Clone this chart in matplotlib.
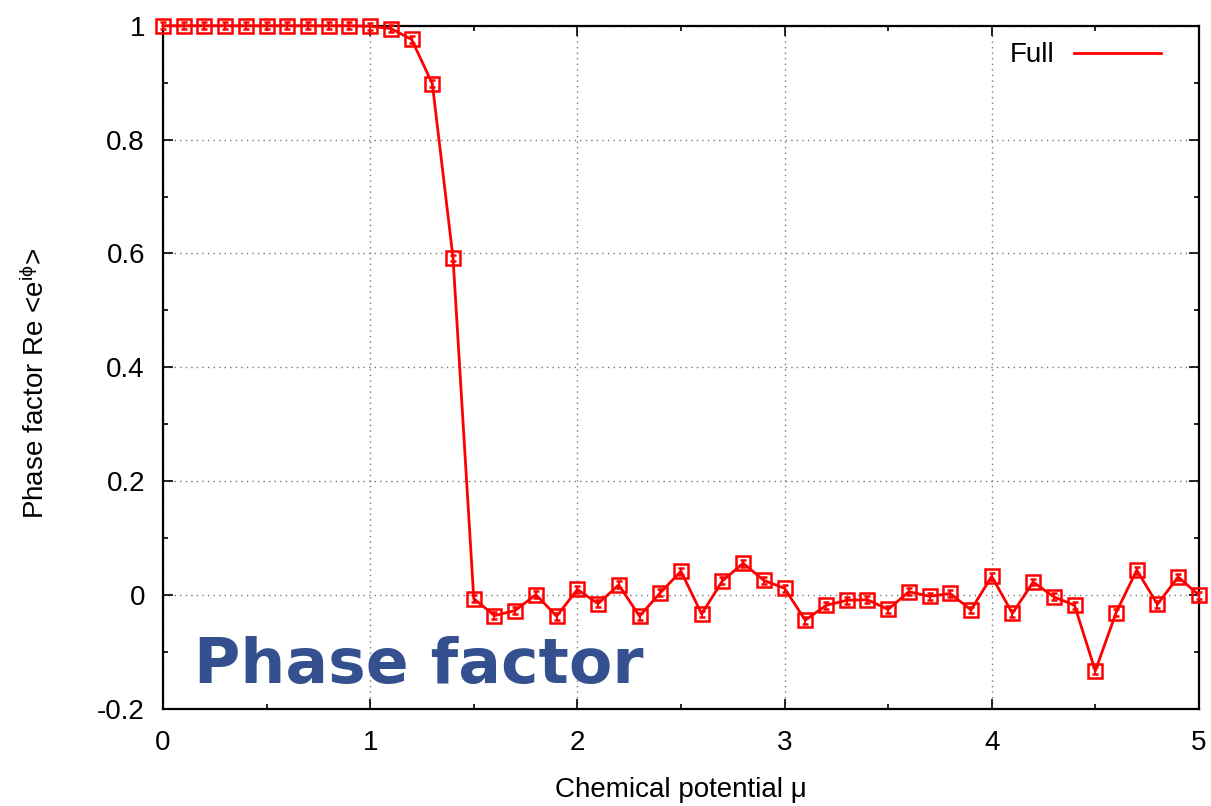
import matplotlib.pyplot as plt
from matplotlib.lines import Line2D
import numpy as np

plt.rcParams['font.family'] = ['Liberation Sans', 'DejaVu Sans']
plt.rcParams['mathtext.fontset'] = 'custom'
plt.rcParams['mathtext.rm'] = 'Liberation Sans'
plt.rcParams['mathtext.it'] = 'Liberation Sans'

# Chemical potential grid
mu = np.round(np.arange(0.0, 5.01, 0.1), 1)

# Real part of the phase factor, full simulation
phase = [1.000, 1.000, 1.000, 1.000, 1.000, 1.000, 1.000, 1.000, 1.000, 1.000,
         0.999, 0.995, 0.976, 0.898, 0.592, -0.006, -0.036, -0.027, 0.001, -0.037,
         0.010, -0.015, 0.018, -0.037, 0.004, 0.042, -0.033, 0.025, 0.056, 0.026,
         0.012, -0.044, -0.018, -0.009, -0.008, -0.025, 0.006, -0.002, 0.003, -0.026,
         0.033, -0.032, 0.023, -0.003, -0.018, -0.133, -0.031, 0.044, -0.016, 0.032,
         0.000]
phase_err = [0.006] * len(phase)

fig = plt.figure(figsize=(12.11, 8.06), dpi=100)
ax = fig.add_axes([0.1346, 0.1203, 0.8554, 0.8478])

ax.errorbar(mu, phase, yerr=phase_err, color='#ff0000', lw=2.0,
            marker='s', ms=10, mfc='none', mec='#ff0000', mew=1.8,
            elinewidth=1.4, capsize=2.5, capthick=1.4,
            clip_on=False, zorder=3)

ax.set_xlim(0, 5)
ax.set_ylim(-0.2, 1.0)
ax.set_xticks(np.arange(0, 5.01, 1))
ax.set_xticks(np.arange(0, 5.01, 0.5), minor=True)
ax.set_yticks(np.arange(-0.2, 1.01, 0.2))
ax.set_yticks(np.arange(-0.2, 1.01, 0.1), minor=True)
ax.set_yticklabels(['-0.2', '0', '0.2', '0.4', '0.6', '0.8', '1'])

ax.tick_params(which='both', direction='in', top=True, right=True,
               labelsize=20, width=1.2)
ax.tick_params(axis='y', pad=13)
ax.tick_params(axis='x', pad=15)
ax.tick_params(which='major', length=7)
ax.tick_params(which='minor', length=3.5)
ax.grid(True, which='major', ls=(0, (1, 3)), color='#777777', lw=1.0)
for s in ax.spines.values():
    s.set_linewidth(1.6)

ax.set_xlabel('Chemical potential \u03bc', fontsize=20, labelpad=15)
ax.set_ylabel(r'Phase factor Re <e$^{\rm i\phi}$>', fontsize=20)
ax.yaxis.set_label_coords(-0.109, 0.477)

# legend shows only the line, gnuplot style
handle = Line2D([], [], color='#ff0000', lw=2.0)
ax.legend([handle], ['Full'], loc='upper right', bbox_to_anchor=(0.971, 0.988),
          frameon=False, fontsize=20, handlelength=3.1, handletextpad=0.7,
          markerfirst=False, borderaxespad=0, borderpad=0.3)

ax.text(0.15, -0.155, 'Phase factor', fontsize=45.5, fontweight='bold',
        family='DejaVu Sans', color='#34508f', zorder=4)

plt.savefig('out.png', dpi=100)
